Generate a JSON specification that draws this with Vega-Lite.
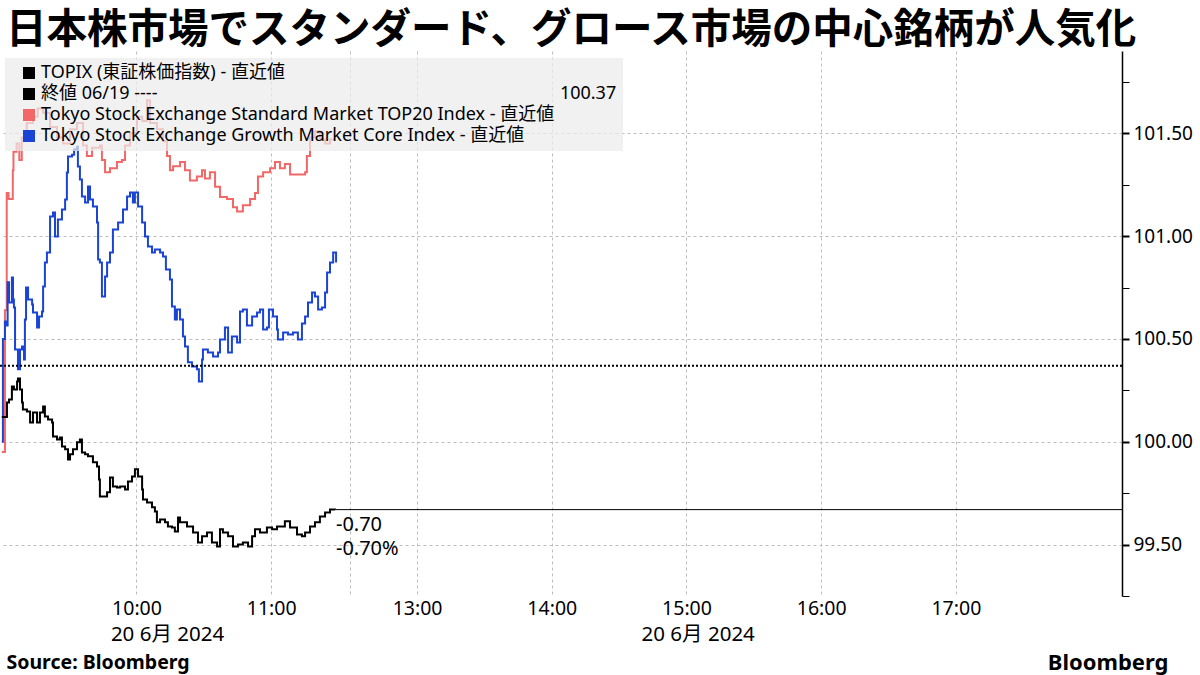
{
  "$schema": "https://vega.github.io/schema/vega-lite/v6.json",
  "width": 1122,
  "height": 545,
  "autosize": {"type": "none"},
  "padding": {"left": 0, "top": 51, "right": 78, "bottom": 79},
  "background": "white",
  "title": {
    "text": "日本株市場でスタンダード、グロース市場の中心銘柄が人気化",
    "anchor": "start",
    "frame": "group",
    "font": "Noto Sans CJK JP",
    "fontSize": 40.5,
    "fontWeight": "bold",
    "color": "#000000",
    "dx": 6,
    "offset": 0
  },
  "config": {
    "view": {"stroke": null},
    "font": "Noto Sans, Noto Sans CJK JP",
    "legend": {
      "orient": "none",
      "legendX": 5,
      "legendY": 7,
      "fillColor": "rgba(236,236,236,0.72)",
      "padding": 6,
      "symbolType": "square",
      "symbolSize": 144,
      "symbolStrokeWidth": 0,
      "symbolOffset": 9,
      "symbolOpacity": 1,
      "labelFont": "Noto Sans, Noto Sans CJK JP",
      "labelFontSize": 18,
      "labelColor": "#000000",
      "labelOffset": 3,
      "labelLimit": 2000,
      "rowPadding": 3
    }
  },
  "datasets": {
    "prices": [
      {"s": "STD", "t": 0, "v": 99.95}, {"s": "STD", "t": 1.4, "v": 100.64}, {"s": "STD", "t": 2.2, "v": 101.21}, {"s": "STD", "t": 3.0, "v": 101.18},
      {"s": "STD", "t": 4.9, "v": 101.32}, {"s": "STD", "t": 5.2, "v": 101.41}, {"s": "STD", "t": 6.6, "v": 101.45}, {"s": "STD", "t": 7.8, "v": 101.37},
      {"s": "STD", "t": 8.9, "v": 101.48}, {"s": "STD", "t": 11.1, "v": 101.55}, {"s": "STD", "t": 13.9, "v": 101.58}, {"s": "STD", "t": 16.0, "v": 101.62},
      {"s": "STD", "t": 18.4, "v": 101.60}, {"s": "STD", "t": 21.5, "v": 101.53}, {"s": "STD", "t": 24.6, "v": 101.48}, {"s": "STD", "t": 27.3, "v": 101.45},
      {"s": "STD", "t": 30.4, "v": 101.52}, {"s": "STD", "t": 33.5, "v": 101.55}, {"s": "STD", "t": 36.2, "v": 101.44}, {"s": "STD", "t": 37.9, "v": 101.39},
      {"s": "STD", "t": 40.2, "v": 101.43}, {"s": "STD", "t": 43.7, "v": 101.44}, {"s": "STD", "t": 44.6, "v": 101.37}, {"s": "STD", "t": 46.0, "v": 101.31},
      {"s": "STD", "t": 48.2, "v": 101.33}, {"s": "STD", "t": 51.3, "v": 101.36}, {"s": "STD", "t": 53.5, "v": 101.37}, {"s": "STD", "t": 54.9, "v": 101.44},
      {"s": "STD", "t": 57.1, "v": 101.50}, {"s": "STD", "t": 60.2, "v": 101.58}, {"s": "STD", "t": 62.5, "v": 101.56}, {"s": "STD", "t": 64.7, "v": 101.66},
      {"s": "STD", "t": 66.0, "v": 101.55}, {"s": "STD", "t": 69.1, "v": 101.52}, {"s": "STD", "t": 71.8, "v": 101.46}, {"s": "STD", "t": 73.6, "v": 101.39},
      {"s": "STD", "t": 74.9, "v": 101.32}, {"s": "STD", "t": 76.3, "v": 101.34}, {"s": "STD", "t": 79.4, "v": 101.36}, {"s": "STD", "t": 81.6, "v": 101.32},
      {"s": "STD", "t": 83.8, "v": 101.27}, {"s": "STD", "t": 86.9, "v": 101.29}, {"s": "STD", "t": 89.2, "v": 101.32}, {"s": "STD", "t": 90.5, "v": 101.28},
      {"s": "STD", "t": 92.7, "v": 101.31}, {"s": "STD", "t": 95.0, "v": 101.24}, {"s": "STD", "t": 97.2, "v": 101.19}, {"s": "STD", "t": 100.3, "v": 101.18},
      {"s": "STD", "t": 103.0, "v": 101.14}, {"s": "STD", "t": 104.8, "v": 101.12}, {"s": "STD", "t": 107.4, "v": 101.15}, {"s": "STD", "t": 110.6, "v": 101.18},
      {"s": "STD", "t": 112.8, "v": 101.21}, {"s": "STD", "t": 114.1, "v": 101.29}, {"s": "STD", "t": 116.4, "v": 101.31}, {"s": "STD", "t": 119.5, "v": 101.33},
      {"s": "STD", "t": 121.7, "v": 101.36}, {"s": "STD", "t": 123.9, "v": 101.33}, {"s": "STD", "t": 126.1, "v": 101.35}, {"s": "STD", "t": 128.4, "v": 101.30},
      {"s": "STD", "t": 131.5, "v": 101.30}, {"s": "STD", "t": 135.1, "v": 101.31}, {"s": "STD", "t": 135.9, "v": 101.39}, {"s": "STD", "t": 137.3, "v": 101.48},
      {"s": "STD", "t": 139.5, "v": 101.51}, {"s": "STD", "t": 141.7, "v": 101.47}, {"s": "STD", "t": 144.0, "v": 101.45}, {"s": "STD", "t": 146.2, "v": 101.47},
      {"s": "STD", "t": 148.4, "v": 101.48},

      {"s": "GRW", "t": 0, "v": 100.0}, {"s": "GRW", "t": 0.5, "v": 100.50}, {"s": "GRW", "t": 1.4, "v": 100.585}, {"s": "GRW", "t": 2.3, "v": 100.565},
      {"s": "GRW", "t": 2.6, "v": 100.775}, {"s": "GRW", "t": 3.2, "v": 100.677}, {"s": "GRW", "t": 4.5, "v": 100.799}, {"s": "GRW", "t": 5.0, "v": 100.692},
      {"s": "GRW", "t": 5.4, "v": 100.653}, {"s": "GRW", "t": 5.9, "v": 100.449}, {"s": "GRW", "t": 7.2, "v": 100.352}, {"s": "GRW", "t": 8.1, "v": 100.449},
      {"s": "GRW", "t": 9.0, "v": 100.463}, {"s": "GRW", "t": 9.9, "v": 100.400}, {"s": "GRW", "t": 10.3, "v": 100.595}, {"s": "GRW", "t": 10.8, "v": 100.750},
      {"s": "GRW", "t": 11.7, "v": 100.692}, {"s": "GRW", "t": 13.5, "v": 100.667}, {"s": "GRW", "t": 13.9, "v": 100.629}, {"s": "GRW", "t": 15.7, "v": 100.556},
      {"s": "GRW", "t": 16.6, "v": 100.609}, {"s": "GRW", "t": 17.9, "v": 100.633}, {"s": "GRW", "t": 18.4, "v": 100.755}, {"s": "GRW", "t": 19.2, "v": 100.872},
      {"s": "GRW", "t": 20.1, "v": 100.920}, {"s": "GRW", "t": 21.5, "v": 101.095}, {"s": "GRW", "t": 22.8, "v": 101.115}, {"s": "GRW", "t": 23.7, "v": 100.998},
      {"s": "GRW", "t": 25.0, "v": 101.081}, {"s": "GRW", "t": 26.8, "v": 101.129}, {"s": "GRW", "t": 28.2, "v": 101.178}, {"s": "GRW", "t": 29.0, "v": 101.309},
      {"s": "GRW", "t": 29.5, "v": 101.387}, {"s": "GRW", "t": 31.3, "v": 101.396}, {"s": "GRW", "t": 32.2, "v": 101.421}, {"s": "GRW", "t": 33.5, "v": 101.435},
      {"s": "GRW", "t": 33.9, "v": 101.338}, {"s": "GRW", "t": 34.8, "v": 101.275}, {"s": "GRW", "t": 35.7, "v": 101.192}, {"s": "GRW", "t": 37.1, "v": 101.163},
      {"s": "GRW", "t": 38.4, "v": 101.241}, {"s": "GRW", "t": 39.3, "v": 101.178}, {"s": "GRW", "t": 40.6, "v": 101.144}, {"s": "GRW", "t": 42.4, "v": 101.066},
      {"s": "GRW", "t": 42.9, "v": 100.886}, {"s": "GRW", "t": 43.7, "v": 100.872}, {"s": "GRW", "t": 44.6, "v": 100.706}, {"s": "GRW", "t": 46.0, "v": 100.804},
      {"s": "GRW", "t": 46.9, "v": 100.872}, {"s": "GRW", "t": 48.2, "v": 100.920}, {"s": "GRW", "t": 49.5, "v": 101.032}, {"s": "GRW", "t": 51.8, "v": 101.066},
      {"s": "GRW", "t": 54.0, "v": 101.129}, {"s": "GRW", "t": 55.8, "v": 101.192}, {"s": "GRW", "t": 57.1, "v": 101.212}, {"s": "GRW", "t": 58.4, "v": 101.163},
      {"s": "GRW", "t": 59.3, "v": 101.212}, {"s": "GRW", "t": 60.7, "v": 101.144}, {"s": "GRW", "t": 62.5, "v": 101.066}, {"s": "GRW", "t": 63.8, "v": 100.998},
      {"s": "GRW", "t": 65.1, "v": 100.949}, {"s": "GRW", "t": 66.9, "v": 100.920}, {"s": "GRW", "t": 68.2, "v": 100.935}, {"s": "GRW", "t": 70.5, "v": 100.920},
      {"s": "GRW", "t": 71.8, "v": 100.901}, {"s": "GRW", "t": 73.1, "v": 100.838}, {"s": "GRW", "t": 74.9, "v": 100.789}, {"s": "GRW", "t": 75.8, "v": 100.658},
      {"s": "GRW", "t": 77.1, "v": 100.595}, {"s": "GRW", "t": 78.0, "v": 100.643}, {"s": "GRW", "t": 79.4, "v": 100.595}, {"s": "GRW", "t": 80.7, "v": 100.512},
      {"s": "GRW", "t": 81.6, "v": 100.463}, {"s": "GRW", "t": 82.9, "v": 100.386}, {"s": "GRW", "t": 84.7, "v": 100.366}, {"s": "GRW", "t": 86.9, "v": 100.352},
      {"s": "GRW", "t": 87.8, "v": 100.293}, {"s": "GRW", "t": 89.2, "v": 100.400}, {"s": "GRW", "t": 89.6, "v": 100.449}, {"s": "GRW", "t": 91.8, "v": 100.434},
      {"s": "GRW", "t": 94.1, "v": 100.415}, {"s": "GRW", "t": 96.3, "v": 100.434}, {"s": "GRW", "t": 97.2, "v": 100.497}, {"s": "GRW", "t": 99.4, "v": 100.556},
      {"s": "GRW", "t": 100.8, "v": 100.434}, {"s": "GRW", "t": 102.5, "v": 100.512}, {"s": "GRW", "t": 104.8, "v": 100.483}, {"s": "GRW", "t": 106.1, "v": 100.633},
      {"s": "GRW", "t": 107.4, "v": 100.643}, {"s": "GRW", "t": 109.2, "v": 100.565}, {"s": "GRW", "t": 111.5, "v": 100.609}, {"s": "GRW", "t": 113.7, "v": 100.629},
      {"s": "GRW", "t": 115.0, "v": 100.643}, {"s": "GRW", "t": 116.4, "v": 100.546}, {"s": "GRW", "t": 118.1, "v": 100.556}, {"s": "GRW", "t": 119.0, "v": 100.643},
      {"s": "GRW", "t": 120.8, "v": 100.609}, {"s": "GRW", "t": 122.6, "v": 100.546}, {"s": "GRW", "t": 123.0, "v": 100.497}, {"s": "GRW", "t": 125.3, "v": 100.531},
      {"s": "GRW", "t": 127.5, "v": 100.521}, {"s": "GRW", "t": 129.7, "v": 100.531}, {"s": "GRW", "t": 131.9, "v": 100.497}, {"s": "GRW", "t": 133.7, "v": 100.575},
      {"s": "GRW", "t": 135.1, "v": 100.609}, {"s": "GRW", "t": 136.4, "v": 100.677}, {"s": "GRW", "t": 138.2, "v": 100.726}, {"s": "GRW", "t": 139.5, "v": 100.706},
      {"s": "GRW", "t": 140.9, "v": 100.643}, {"s": "GRW", "t": 142.6, "v": 100.653}, {"s": "GRW", "t": 144.0, "v": 100.726}, {"s": "GRW", "t": 144.9, "v": 100.823},
      {"s": "GRW", "t": 146.2, "v": 100.872}, {"s": "GRW", "t": 147.6, "v": 100.920}, {"s": "GRW", "t": 148.9, "v": 100.872},

      {"s": "TPX", "t": 0, "v": 100.12}, {"s": "TPX", "t": 2.3, "v": 100.191}, {"s": "TPX", "t": 3.2, "v": 100.206}, {"s": "TPX", "t": 4.5, "v": 100.269},
      {"s": "TPX", "t": 5.4, "v": 100.254}, {"s": "TPX", "t": 6.8, "v": 100.293}, {"s": "TPX", "t": 7.2, "v": 100.308}, {"s": "TPX", "t": 8.1, "v": 100.254},
      {"s": "TPX", "t": 9.0, "v": 100.191}, {"s": "TPX", "t": 9.4, "v": 100.157}, {"s": "TPX", "t": 11.2, "v": 100.147}, {"s": "TPX", "t": 12.6, "v": 100.094},
      {"s": "TPX", "t": 13.9, "v": 100.142}, {"s": "TPX", "t": 15.7, "v": 100.094}, {"s": "TPX", "t": 17.0, "v": 100.142}, {"s": "TPX", "t": 18.4, "v": 100.172},
      {"s": "TPX", "t": 19.2, "v": 100.123}, {"s": "TPX", "t": 20.6, "v": 100.108}, {"s": "TPX", "t": 22.4, "v": 100.094}, {"s": "TPX", "t": 22.8, "v": 100.026},
      {"s": "TPX", "t": 24.6, "v": 100.011}, {"s": "TPX", "t": 25.9, "v": 100.021}, {"s": "TPX", "t": 26.8, "v": 99.977}, {"s": "TPX", "t": 28.2, "v": 99.963},
      {"s": "TPX", "t": 29.5, "v": 99.914}, {"s": "TPX", "t": 30.4, "v": 99.939}, {"s": "TPX", "t": 31.7, "v": 99.963}, {"s": "TPX", "t": 33.5, "v": 99.997},
      {"s": "TPX", "t": 34.8, "v": 100.011}, {"s": "TPX", "t": 35.7, "v": 99.948}, {"s": "TPX", "t": 37.1, "v": 99.939}, {"s": "TPX", "t": 38.4, "v": 99.929},
      {"s": "TPX", "t": 40.6, "v": 99.900}, {"s": "TPX", "t": 42.4, "v": 99.880}, {"s": "TPX", "t": 43.3, "v": 99.817}, {"s": "TPX", "t": 43.7, "v": 99.734},
      {"s": "TPX", "t": 45.1, "v": 99.734}, {"s": "TPX", "t": 46.9, "v": 99.754}, {"s": "TPX", "t": 48.2, "v": 99.826}, {"s": "TPX", "t": 49.5, "v": 99.783},
      {"s": "TPX", "t": 51.3, "v": 99.778}, {"s": "TPX", "t": 52.7, "v": 99.783}, {"s": "TPX", "t": 54.9, "v": 99.768}, {"s": "TPX", "t": 56.2, "v": 99.807},
      {"s": "TPX", "t": 58.0, "v": 99.831}, {"s": "TPX", "t": 59.3, "v": 99.866}, {"s": "TPX", "t": 60.7, "v": 99.831}, {"s": "TPX", "t": 62.5, "v": 99.768},
      {"s": "TPX", "t": 62.9, "v": 99.719}, {"s": "TPX", "t": 64.7, "v": 99.705}, {"s": "TPX", "t": 66.9, "v": 99.681}, {"s": "TPX", "t": 68.2, "v": 99.661},
      {"s": "TPX", "t": 69.1, "v": 99.608}, {"s": "TPX", "t": 70.5, "v": 99.622}, {"s": "TPX", "t": 72.7, "v": 99.608}, {"s": "TPX", "t": 74.0, "v": 99.588},
      {"s": "TPX", "t": 75.8, "v": 99.583}, {"s": "TPX", "t": 77.1, "v": 99.564}, {"s": "TPX", "t": 78.5, "v": 99.632}, {"s": "TPX", "t": 79.4, "v": 99.608},
      {"s": "TPX", "t": 82.5, "v": 99.588}, {"s": "TPX", "t": 85.2, "v": 99.559}, {"s": "TPX", "t": 87.4, "v": 99.510}, {"s": "TPX", "t": 89.2, "v": 99.540},
      {"s": "TPX", "t": 91.4, "v": 99.559}, {"s": "TPX", "t": 93.6, "v": 99.510}, {"s": "TPX", "t": 95.9, "v": 99.491}, {"s": "TPX", "t": 97.2, "v": 99.574},
      {"s": "TPX", "t": 98.5, "v": 99.559}, {"s": "TPX", "t": 100.8, "v": 99.540}, {"s": "TPX", "t": 103.0, "v": 99.491}, {"s": "TPX", "t": 105.2, "v": 99.501},
      {"s": "TPX", "t": 107.4, "v": 99.510}, {"s": "TPX", "t": 109.7, "v": 99.491}, {"s": "TPX", "t": 111.5, "v": 99.540}, {"s": "TPX", "t": 112.8, "v": 99.574},
      {"s": "TPX", "t": 115.0, "v": 99.559}, {"s": "TPX", "t": 118.1, "v": 99.583}, {"s": "TPX", "t": 120.4, "v": 99.574}, {"s": "TPX", "t": 122.6, "v": 99.588},
      {"s": "TPX", "t": 126.1, "v": 99.613}, {"s": "TPX", "t": 128.4, "v": 99.583}, {"s": "TPX", "t": 131.5, "v": 99.549}, {"s": "TPX", "t": 133.7, "v": 99.540},
      {"s": "TPX", "t": 135.1, "v": 99.559}, {"s": "TPX", "t": 137.3, "v": 99.588}, {"s": "TPX", "t": 139.5, "v": 99.608}, {"s": "TPX", "t": 141.7, "v": 99.637},
      {"s": "TPX", "t": 144.0, "v": 99.656}, {"s": "TPX", "t": 146.2, "v": 99.671}, {"s": "TPX", "t": 148.4, "v": 99.67}
    ],
    "prevclose": [{"s": "PREV", "v": 100.37}],
    "last": [{"s": "TPX", "t": 148.4, "v": 99.67, "chg": "-0.70", "pct": "-0.70%"}],
    "dates": [{"t": 48.6, "label": "20 6月 2024"}, {"t": 285, "label": "20 6月 2024"}]
  },
  "layer": [
    {
      "data": {"name": "prices"},
      "mark": {"type": "line", "interpolate": "step-after", "strokeWidth": 2},
      "encoding": {
        "x": {
          "field": "t", "type": "quantitative",
          "scale": {"domain": [-0.8, 499], "nice": false, "zero": false},
          "axis": {
            "values": [60, 120, 155, 185, 245, 305, 365, 425],
            "labelExpr": "datum.value==60?'10:00':datum.value==120?'11:00':datum.value==185?'13:00':datum.value==245?'14:00':datum.value==305?'15:00':datum.value==365?'16:00':datum.value==425?'17:00':''",
            "grid": true, "gridColor": "#bdbdbd", "gridDash": [3, 3], "gridWidth": 1,
            "ticks": false, "domain": false,
            "labelFont": "Noto Sans", "labelFontSize": 19.5, "labelColor": "#000000", "labelPadding": 3, "labelOverlap": false,
            "title": "Source: Bloomberg", "titleFont": "Noto Sans", "titleFontSize": 19.5, "titleFontWeight": "bold", "titleColor": "#000000",
            "titleAnchor": "start", "titleAlign": "left", "titleBaseline": "middle", "titleX": 6, "titleY": 66
          }
        },
        "y": {
          "field": "v", "type": "quantitative",
          "scale": {"domain": [99.25, 101.9], "nice": false, "zero": false},
          "axis": {
            "orient": "right",
            "values": [99.25, 99.5, 99.75, 100, 100.25, 100.5, 100.75, 101, 101.25, 101.5, 101.75],
            "labelExpr": "abs(datum.value*2 - round(datum.value*2)) < 0.001 ? format(datum.value, '.2f') : ''",
            "grid": true, "gridColor": "#bdbdbd", "gridDash": [3, 3], "gridWidth": 1,
            "gridOpacity": {"condition": {"test": "abs(datum.value*2 - round(datum.value*2)) < 0.001", "value": 1}, "value": 0},
            "domainColor": "#000000", "domainWidth": 1.5,
            "tickColor": "#000000", "tickSize": 7,
            "tickWidth": {"condition": {"test": "abs(datum.value*2 - round(datum.value*2)) < 0.001", "value": 2}, "value": 1},
            "labelFont": "Noto Sans", "labelFontSize": 19, "labelColor": "#000000", "labelPadding": 4, "labelOverlap": false,
            "title": "Bloomberg", "titleFont": "Noto Sans", "titleFontSize": 22, "titleFontWeight": "bold", "titleColor": "#000000",
            "titleAngle": 0, "titleAlign": "right", "titleBaseline": "middle", "titleX": 46, "titleY": 611
          }
        },
        "color": {
          "field": "s", "type": "nominal",
          "scale": {"domain": ["TPX", "PREV", "STD", "GRW"], "range": ["#000000", "#000000", "#f26767", "#1a44d6"]},
          "legend": {
            "title": null,
            "symbolType": "square",
            "symbolSize": 144,
            "symbolStrokeWidth": 0,
            "rowPadding": 3,
            "encode": {
              "symbols": {"update": {"fill": {"scale": "color", "field": "value"}, "strokeWidth": {"value": 0}, "size": {"value": 144}}}
            },
            "labelExpr": "datum.value == 'TPX' ? 'TOPIX (東証株価指数) - 直近値' : datum.value == 'PREV' ? pad('終値 06/19 ----', 99, '\u00a0') + '100.37' : datum.value == 'STD' ? 'Tokyo Stock Exchange Standard Market TOP20 Index - 直近値' : 'Tokyo Stock Exchange Growth Market Core Index - 直近値'"
          }
        }
      }
    },
    {
      "data": {"name": "prevclose"},
      "mark": {"type": "rule", "strokeDash": [2, 2], "strokeWidth": 2},
      "encoding": {
        "y": {"field": "v", "type": "quantitative"},
        "color": {"field": "s", "type": "nominal"}
      }
    },
    {
      "data": {"name": "last"},
      "mark": {"type": "rule", "strokeWidth": 1, "color": "#000000"},
      "encoding": {
        "x": {"field": "t", "type": "quantitative"},
        "x2": {"datum": 499},
        "y": {"field": "v", "type": "quantitative"}
      }
    },
    {
      "data": {"name": "last"},
      "mark": {"type": "text", "align": "left", "baseline": "middle", "dx": 1, "dy": 15, "fontSize": 20, "font": "Noto Sans", "color": "#000000"},
      "encoding": {
        "x": {"field": "t", "type": "quantitative"},
        "y": {"field": "v", "type": "quantitative"},
        "text": {"field": "chg"}
      }
    },
    {
      "data": {"name": "last"},
      "mark": {"type": "text", "align": "left", "baseline": "middle", "dx": 1, "dy": 39, "fontSize": 20, "font": "Noto Sans", "color": "#000000"},
      "encoding": {
        "x": {"field": "t", "type": "quantitative"},
        "y": {"field": "v", "type": "quantitative"},
        "text": {"field": "pct"}
      }
    },
    {
      "data": {"name": "dates"},
      "mark": {"type": "text", "align": "left", "baseline": "middle", "fontSize": 20.5, "font": "Noto Sans, Noto Sans CJK JP", "color": "#000000"},
      "encoding": {
        "x": {"field": "t", "type": "quantitative"},
        "y": {"datum": 99.06},
        "text": {"field": "label"}
      }
    }
  ]
}
